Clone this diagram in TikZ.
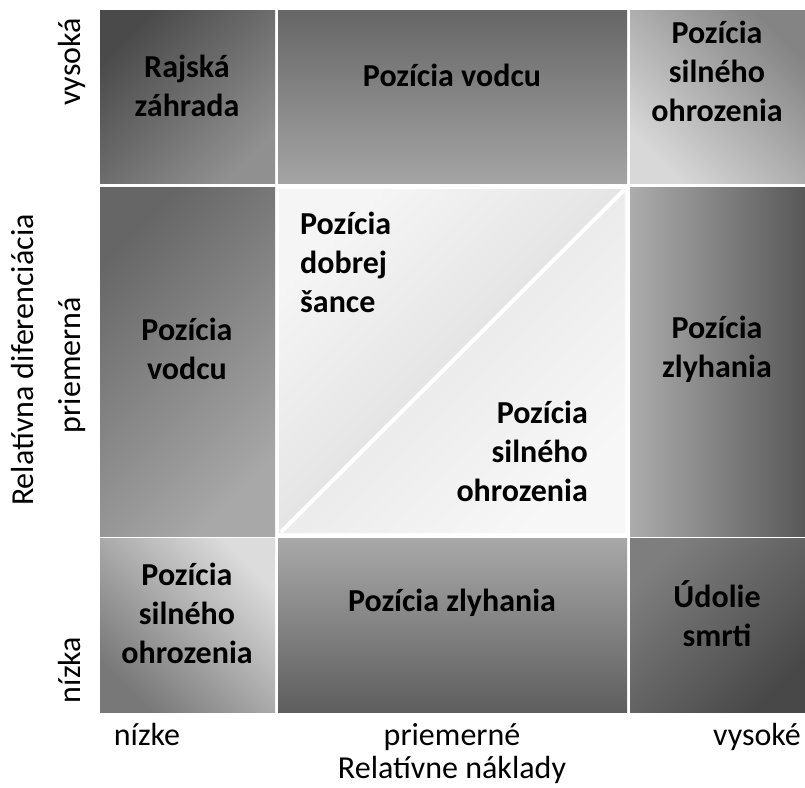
\documentclass[tikz,border=0pt]{standalone}
\usepackage{fontspec}
\setmainfont{Carlito}
\definecolor{tlA}{RGB}{74,74,74}
\definecolor{tlB}{RGB}{144,144,144}
\definecolor{tmA}{RGB}{102,102,102}
\definecolor{tmB}{RGB}{164,164,164}
\definecolor{trA}{RGB}{132,132,132}
\definecolor{trB}{RGB}{216,216,216}
\definecolor{mlA}{RGB}{102,102,102}
\definecolor{mlB}{RGB}{168,168,168}
\definecolor{cuA}{RGB}{245,245,245}
\definecolor{cuB}{RGB}{212,212,212}
\definecolor{clA}{RGB}{224,224,224}
\definecolor{clB}{RGB}{247,247,247}
\definecolor{mrA}{RGB}{172,172,172}
\definecolor{mrB}{RGB}{88,88,88}
\definecolor{blA}{RGB}{220,220,220}
\definecolor{blB}{RGB}{120,120,120}
\definecolor{bmA}{RGB}{168,168,168}
\definecolor{bmB}{RGB}{94,94,94}
\definecolor{brA}{RGB}{126,126,126}
\definecolor{brB}{RGB}{72,72,72}
\begin{document}
\begin{tikzpicture}[x=1pt,y=1pt,
  lbl/.style={font=\bfseries\fontsize{32}{39}\selectfont, align=center, inner sep=0pt, text=black},
  axl/.style={font=\fontsize{32}{36}\selectfont, inner sep=0pt, text=black, anchor=base}]
\useasboundingbox (0,0) rectangle (805,-787);
\fill[white] (0,0) rectangle (805,-787);
% row 1
\shade[top color=tlA, bottom color=tlB, shading angle=45] (100,-10) rectangle (275,-183);
\shade[top color=tmA, bottom color=tmB] (278,-10) rectangle (627,-183);
\shade[top color=trA, bottom color=trB, shading angle=-45] (630,-10) rectangle (805,-183);
% row 2
\shade[top color=mlA, bottom color=mlB, shading angle=45] (100,-187) rectangle (275,-536);
\shade[top color=cuA, bottom color=cuB, shading angle=45] (279,-189) -- (625,-189) -- (279,-533) -- cycle;
\shade[top color=clA, bottom color=clB, shading angle=45] (625,-189) -- (625,-533) -- (279,-533) -- cycle;
\coordinate (dgA) at (281,-532);
\coordinate (dgB) at (624,-190);
\draw[white, line width=4pt] (dgA) -- (dgB);
\shade[left color=mrA, right color=mrB] (630,-187) rectangle (805,-536);
% row 3
\shade[top color=blA, bottom color=blB, shading angle=-45] (100,-538) rectangle (275,-712);
\shade[top color=bmA, bottom color=bmB] (278,-538) rectangle (627,-712);
\shade[top color=brA, bottom color=brB, shading angle=45] (630,-538) rectangle (805,-712);
% cell labels
\node[lbl] (tl) at (187,-86) {Rajská\\záhrada};
\node[lbl] (tm) at (452,-75) {Pozícia vodcu};
\node[lbl] (tr) at (717,-71) {Pozícia\\silného\\ohrozenia};
\node[lbl] (ml) at (187,-349) {Pozícia\\vodcu};
\node[lbl, align=left, anchor=west] (cu) at (300,-262) {Pozícia\\dobrej\\šance};
\node[lbl, align=right, anchor=east] (cl) at (588,-451) {Pozícia\\silného\\ohrozenia};
\node[lbl] (mr) at (717,-349) {Pozícia\\zlyhania};
\node[lbl] (bl) at (187,-613) {Pozícia\\silného\\ohrozenia};
\node[lbl] (bm) at (452,-603) {Pozícia zlyhania};
\node[lbl] (br) at (717,-614) {Údolie\\smrti};
% axis labels
\node[axl, rotate=90] (yh) at (80,-62) {vysoká};
\node[axl, rotate=90] (ym) at (80,-365) {priemerná};
\node[axl, rotate=90] (yl) at (80,-670) {nízka};
\node[axl, rotate=90] (yt) at (33,-360) {Relatívna diferenciácia};
\node[axl] (xl) at (147,-745) {nízke};
\node[axl] (xm) at (452,-745) {priemerné};
\node[axl] (xh) at (757,-745) {vysoké};
\node[axl] (xt) at (452,-778) {Relatívne náklady};
\end{tikzpicture}
\end{document}
